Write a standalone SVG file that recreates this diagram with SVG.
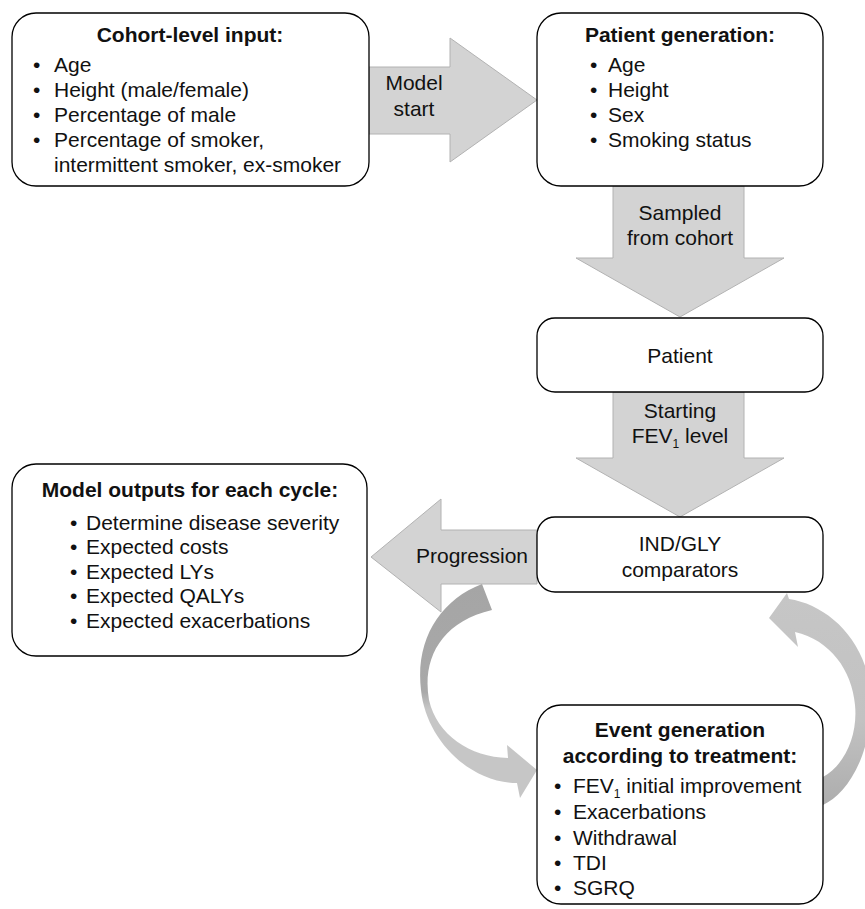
<svg xmlns="http://www.w3.org/2000/svg" width="865" height="909" viewBox="0 0 865 909">
  <style>
    text { font-family: "Liberation Sans", Arial, sans-serif; font-size: 21px; fill: #111; }
    .b { font-weight: bold; }
    .c { text-anchor: middle; }
    .box { fill: #fff; stroke: #000; stroke-width: 1.3; }
    .blk { fill: #d3d3d3; stroke: #b2b2b2; stroke-width: 1; }
    .sub { font-size: 12px; }
  </style>
  <defs>
    <linearGradient id="gL" gradientUnits="userSpaceOnUse" x1="0" y1="584" x2="0" y2="800">
      <stop offset="0" stop-color="#a5a5a5"/>
      <stop offset="0.5" stop-color="#a9a9a9"/>
      <stop offset="0.58" stop-color="#c6c6c6"/>
      <stop offset="1" stop-color="#c6c6c6"/>
    </linearGradient>
    <linearGradient id="gR" gradientUnits="userSpaceOnUse" x1="0" y1="593" x2="0" y2="805">
      <stop offset="0" stop-color="#c6c6c6"/>
      <stop offset="0.6" stop-color="#c2c2c2"/>
      <stop offset="1" stop-color="#adadad"/>
    </linearGradient>
  </defs>

  <g id="connectors">
    <g id="arrow-model-start">
      <polygon class="blk" points="369,67 450,67 450,38 537,100 450,162 450,134 369,134"/>
      <text class="c" x="414" y="90">Model</text>
      <text class="c" x="414" y="116">start</text>
    </g>
    <g id="arrow-sampled">
      <polygon class="blk" points="613,186 744,186 744,258 784,258 680,317 576,258 613,258"/>
      <text class="c" x="680" y="220">Sampled</text>
      <text class="c" x="680" y="245">from cohort</text>
    </g>
    <g id="arrow-starting">
      <polygon class="blk" points="613,392 744,392 744,458 784,458 680,517 576,458 613,458"/>
      <text class="c" x="680" y="418">Starting</text>
      <text class="c" x="680" y="443">FEV<tspan class="sub" dy="5">1</tspan><tspan dy="-5"> level</tspan></text>
    </g>
    <g id="arrow-progression">
      <polygon class="blk" points="537,530 441,530 441,499 371,557 441,612 441,584 537,584"/>
      <text class="c" x="472" y="563">Progression</text>
    </g>
    <path id="arc-left" fill="url(#gL)" d="M482,584 C440,600 415,640 421,690 C426,740 470,783 517,783 L520,798 L537,770 L507,745 L508,758 C470,757 437,735 429,700 C422,660 440,622 492,610 Z"/>
    <path id="arc-right" fill="url(#gR)" d="M789,599 C830,605 872,645 871,705 C870,760 845,795 823,805 L823,777 C845,765 858,735 855,705 C852,670 830,640 795,632 L798,647 L769,618 L787,593 Z"/>
  </g>

  <g id="node-cohort">
    <rect class="box" x="12" y="13" width="357" height="173" rx="24"/>
    <text class="b c" x="190" y="42">Cohort-level input:</text>
    <text x="33" y="72">•</text><text x="54" y="72">Age</text>
    <text x="33" y="97">•</text><text x="54" y="97">Height (male/female)</text>
    <text x="33" y="122">•</text><text x="54" y="122">Percentage of male</text>
    <text x="33" y="147">•</text><text x="54" y="147">Percentage of smoker,</text>
    <text x="54" y="172">intermittent smoker, ex-smoker</text>
  </g>

  <g id="node-patient-generation">
    <rect class="box" x="537" y="13" width="286" height="173" rx="24"/>
    <text class="b c" x="680" y="42">Patient generation:</text>
    <text x="590" y="72">•</text><text x="608" y="72">Age</text>
    <text x="590" y="97">•</text><text x="608" y="97">Height</text>
    <text x="590" y="122">•</text><text x="608" y="122">Sex</text>
    <text x="590" y="147">•</text><text x="608" y="147">Smoking status</text>
  </g>

  <g id="node-patient">
    <rect class="box" x="537" y="318" width="286" height="74" rx="18"/>
    <text class="c" x="680" y="363">Patient</text>
  </g>

  <g id="node-ind-gly">
    <rect class="box" x="537" y="517" width="286" height="75" rx="18"/>
    <text class="c" x="680" y="551">IND/GLY</text>
    <text class="c" x="680" y="577">comparators</text>
  </g>

  <g id="node-outputs">
    <rect class="box" x="12" y="464" width="355" height="192" rx="24"/>
    <text class="b c" x="190" y="497">Model outputs for each cycle:</text>
    <text x="70" y="530">•</text><text x="86" y="530">Determine disease severity</text>
    <text x="70" y="554">•</text><text x="86" y="554">Expected costs</text>
    <text x="70" y="579">•</text><text x="86" y="579">Expected LYs</text>
    <text x="70" y="603">•</text><text x="86" y="603">Expected QALYs</text>
    <text x="70" y="628">•</text><text x="86" y="628">Expected exacerbations</text>
  </g>

  <g id="node-event">
    <rect class="box" x="537" y="705" width="286" height="199" rx="24"/>
    <text class="b c" x="680" y="737">Event generation</text>
    <text class="b c" x="680" y="763">according to treatment:</text>
    <text x="554" y="793">•</text><text x="573" y="793">FEV<tspan class="sub" dy="5">1</tspan><tspan dy="-5"> initial improvement</tspan></text>
    <text x="554" y="819">•</text><text x="573" y="819">Exacerbations</text>
    <text x="554" y="845">•</text><text x="573" y="845">Withdrawal</text>
    <text x="554" y="870">•</text><text x="573" y="870">TDI</text>
    <text x="554" y="895">•</text><text x="573" y="895">SGRQ</text>
  </g>
</svg>
